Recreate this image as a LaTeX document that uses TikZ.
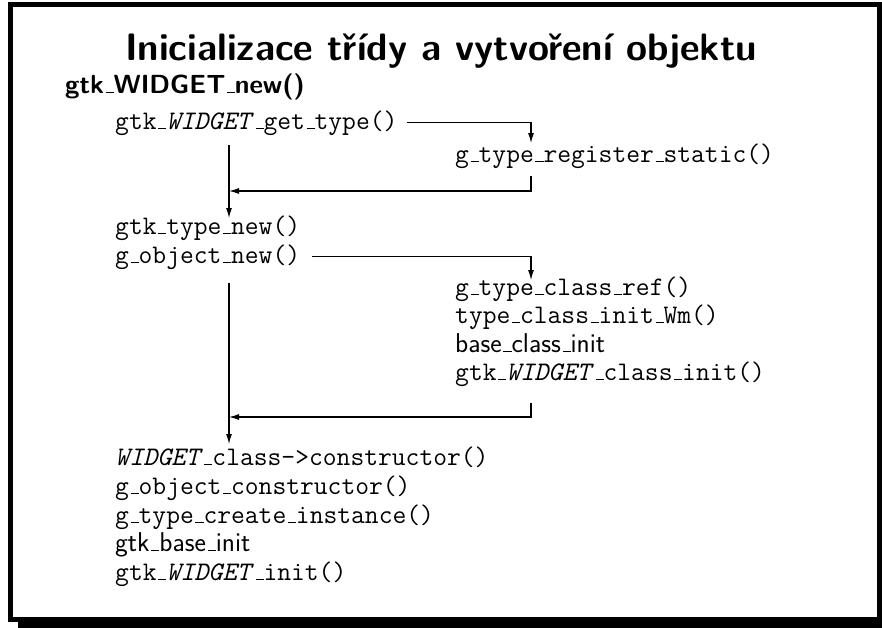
\documentclass[tikz,border=0pt]{standalone}
\usetikzlibrary{arrows.meta}
% short baseline bar used as the underscore in identifiers
\newcommand{\us}{\kern.06em\rule{.3em}{.05em}}
\newcommand{\wdg}{\textit{WIDGET}\/}
\begin{document}
\begin{tikzpicture}[x=1pt,y=-1pt,
  code/.style={anchor=base west, inner sep=2pt, font=\ttfamily\fontsize{26.8}{29}\selectfont},
  plain/.style={anchor=base west, inner sep=2pt, font=\sffamily\fontsize{27.2}{29}\selectfont},
  arr/.style={line width=1.1pt, -{Latex[length=10pt,width=6pt]}},
  gap/.style={shorten <=#1}]
\clip (0,0) rectangle (882,627);
\useasboundingbox (0,0) rectangle (882,627);
% slide frame with drop shadow
\fill[black] (18,12) rectangle (892,637);
\draw[line width=5pt, fill=white] (10.5,4.5) rectangle (879.5,619.5);

% headings
\node[anchor=base, inner sep=0pt, font=\sffamily\bfseries\fontsize{38.2}{42}\selectfont] (title) at (441,60)
  {Inicializace třídy a vytvoření objektu};
\node[anchor=base west, inner sep=0pt, font=\sffamily\bfseries\fontsize{26.2}{29}\selectfont] (sub) at (65,93)
  {gtk\us WIDGET\us new()};

% call sequence
\node[code] (gettype) at (113,129) {gtk\us\wdg\us get\us type()};
\node[code] (reg) at (453,162) {g\us type\us register\us static()};
\node[code] (typenew) at (113,234) {gtk\us type\us new()};
\node[code] (objnew) at (113,263) {g\us object\us new()};
\node[code] (classref) at (453,295) {g\us type\us class\us ref()};
\node[code] (typeinit) at (453,323) {type\us class\us init\us Wm()};
\node[plain] (baseinit) at (453,352) {base\us class\us init};
\node[code] (classinit) at (453,380) {gtk\us\wdg\us class\us init()};
\node[code] (ctor) at (113,465) {\wdg\us class->constructor()};
\node[code] (objctor) at (113,494) {g\us object\us constructor()};
\node[code] (create) at (113,523) {g\us type\us create\us instance()};
\node[plain] (gtkbase) at (113,551) {gtk\us base\us init};
\node[code] (winit) at (113,580) {gtk\us\wdg\us init()};

% connector end points
\coordinate (regin) at (531,143);
\coordinate (regout) at (531,176);
\coordinate (backA) at (229,191);
\coordinate (downAtop) at (229,145);
\coordinate (downAbot) at (229,218);
\coordinate (refin) at (531,280);
\coordinate (refout) at (531,403);
\coordinate (backB) at (229,417);
\coordinate (downBtop) at (229,283);
\coordinate (downBbot) at (229,444);

% connectors
\draw[arr, gap=7pt] (gettype.east) -| (regin);
\draw[arr] (regout) |- (backA);
\draw[arr] (downAtop) -- (downAbot);
\draw[arr, gap=10pt] (objnew.east) -| (refin);
\draw[arr] (refout) |- (backB);
\draw[arr] (downBtop) -- (downBbot);
\end{tikzpicture}
\end{document}
